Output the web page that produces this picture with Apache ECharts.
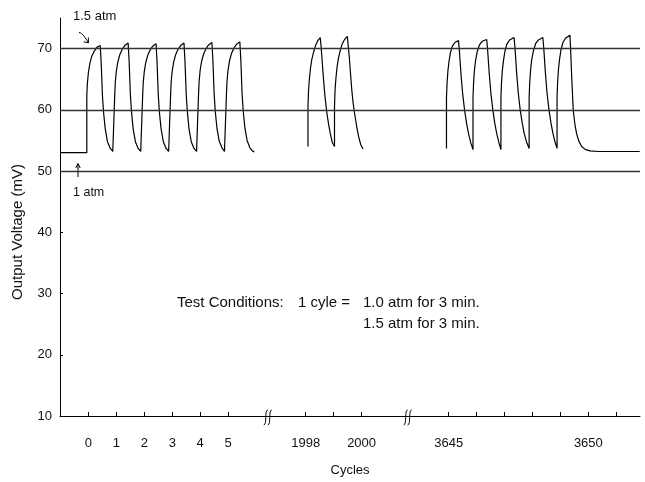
<!DOCTYPE html>
<html><head><meta charset="utf-8">
<script src="https://cdn.jsdelivr.net/npm/echarts@6/dist/echarts.min.js"></script>
<style>html,body{margin:0;padding:0;background:#fff}#c{width:645px;height:482px}</style>
</head><body><div id="c"></div>
<script>
// ---- data (cycles, output voltage in mV) ----
const tickCycles = [0, 1, 2, 3, 4, 5, 1998, 1999, 2000, 3645, 3646, 3647, 3648, 3649, 3650, 3651];
const labelCycles = [0, 1, 2, 3, 4, 5, 1998, 2000, 3645, 3650];
const yTickLabels = [10, 20, 30, 40, 50, 60, 70];
const refLevels = [70, 60, 50];

const seg1 = [
  [-1.02,53.0],[-0.06,53.0],
  [-0.06,62.3],[-0.04,64.3],[-0.003,66.1],[0.05,67.6],[0.12,68.8],[0.21,69.6],[0.30,70.2],[0.42,70.5],[0.455,67.7],[0.50,62.3],[0.54,59.6],[0.60,56.9],[0.68,54.8],[0.78,53.7],[0.87,53.2],[0.94,53.0],
  [0.94,62.4],[0.96,64.5],[0.997,66.3],[1.05,67.8],[1.12,69.0],[1.21,69.9],[1.30,70.5],[1.42,70.9],[1.455,68.0],[1.50,62.5],[1.54,59.7],[1.60,56.9],[1.68,54.8],[1.78,53.7],[1.87,53.2],[1.94,53.0],
  [1.94,62.3],[1.96,64.4],[1.997,66.2],[2.05,67.7],[2.12,68.9],[2.21,69.8],[2.30,70.4],[2.42,70.8],[2.455,67.9],[2.50,62.4],[2.54,59.6],[2.60,56.9],[2.68,54.8],[2.78,53.7],[2.87,53.2],[2.94,53.0],
  [2.94,62.4],[2.96,64.5],[2.997,66.3],[3.05,67.8],[3.12,69.0],[3.21,69.9],[3.30,70.5],[3.42,70.9],[3.455,68.0],[3.50,62.5],[3.54,59.7],[3.60,56.9],[3.68,54.8],[3.78,53.7],[3.87,53.2],[3.94,52.9],
  [3.94,62.4],[3.96,64.5],[3.997,66.4],[4.05,67.9],[4.12,69.1],[4.21,70.0],[4.30,70.6],[4.42,71.0],[4.455,68.1],[4.50,62.6],[4.54,59.8],[4.60,57.0],[4.68,54.9],[4.78,53.8],[4.87,53.2],[4.94,52.9],
  [4.94,62.5],[4.96,64.6],[4.997,66.5],[5.05,68.0],[5.12,69.2],[5.21,70.1],[5.30,70.7],[5.42,71.1],[5.455,68.2],[5.50,62.7],[5.54,59.9],[5.60,57.1],[5.68,55.0],[5.78,53.8],[5.87,53.3],[5.94,53.1]
];

const seg2 = [
  [1998.08,54.0],[1998.08,60.5],[1998.10,63.2],[1998.13,65.0],[1998.17,66.8],[1998.22,68.3],[1998.28,69.4],[1998.35,70.5],[1998.43,71.3],[1998.52,71.8],
  [1998.55,70.3],[1998.58,68.5],[1998.62,66.0],[1998.67,63.1],[1998.72,60.9],[1998.76,59.4],[1998.82,57.6],[1998.88,56.1],[1998.95,54.7],[1999.03,54.0],
  [1999.03,60.6],[1999.05,63.3],[1999.08,65.1],[1999.12,66.9],[1999.17,68.4],[1999.23,69.6],[1999.30,70.7],[1999.39,71.5],[1999.49,72.0],
  [1999.52,70.5],[1999.56,68.6],[1999.60,66.1],[1999.65,63.2],[1999.70,61.0],[1999.75,59.4],[1999.82,57.4],[1999.89,55.7],[1999.97,54.3],[2000.05,53.6]
];

const seg3 = [
  [3644.92,53.7],[3644.92,62.0],[3644.94,64.3],[3644.97,66.3],[3645.01,67.9],[3645.06,69.3],[3645.13,70.4],[3645.22,71.0],[3645.35,71.3],
  [3645.38,69.8],[3645.44,65.8],[3645.50,62.6],[3645.57,59.9],[3645.64,57.8],[3645.71,56.1],[3645.79,54.6],[3645.87,53.5],
  [3645.87,62.0],[3645.89,64.4],[3645.92,66.4],[3645.96,68.0],[3646.02,69.5],[3646.10,70.6],[3646.20,71.2],[3646.36,71.5],
  [3646.39,70.0],[3646.45,66.0],[3646.51,62.7],[3646.58,60.0],[3646.65,57.8],[3646.72,56.1],[3646.80,54.6],[3646.87,53.5],
  [3646.87,62.0],[3646.89,64.4],[3646.92,66.4],[3646.96,68.0],[3647.01,69.5],[3647.08,70.7],[3647.18,71.4],[3647.34,71.8],
  [3647.37,70.3],[3647.43,66.2],[3647.49,62.8],[3647.56,60.0],[3647.63,57.9],[3647.70,56.2],[3647.79,54.7],[3647.88,53.7],
  [3647.88,62.0],[3647.90,64.4],[3647.93,66.4],[3647.97,68.1],[3648.03,69.6],[3648.11,70.8],[3648.21,71.4],[3648.37,71.8],
  [3648.40,70.3],[3648.46,66.2],[3648.52,62.8],[3648.59,60.0],[3648.66,57.9],[3648.73,56.2],[3648.81,54.7],[3648.88,53.7],
  [3648.88,62.0],[3648.90,64.5],[3648.93,66.6],[3648.97,68.3],[3649.02,69.8],[3649.09,71.0],[3649.18,71.7],[3649.34,72.2],
  [3649.36,70.5],[3649.40,65.8],[3649.46,59.9],[3649.52,57.6],[3649.58,56.1],[3649.66,54.9],[3649.76,54.0],[3649.90,53.5],[3650.06,53.3],[3650.36,53.2],[3651.84,53.2]
];

// ---- broken-axis mapping: each cycle segment placed on a continuous axis ----
const segStarts = [0, 1998, 3645];
const segAxisPos = [0, 7.78, 12.9];
const breakAxisPos = [6.42, 11.43];
function toAxis(c) {
  const i = c >= 3000 ? 2 : (c >= 1000 ? 1 : 0);
  return +(c - segStarts[i] + segAxisPos[i]).toFixed(4);
}
const mapSeg = s => s.map(p => [toAxis(p[0]), p[1]]);
const labelMap = {};
labelCycles.forEach(c => { labelMap[toAxis(c).toFixed(3)] = String(c); });

const FONT = '"Liberation Sans", Arial, Helvetica, sans-serif';
const chart = echarts.init(document.getElementById('c'), null, {renderer: 'canvas'});

const lineSeries = (data) => ({
  type: 'line', data: data, showSymbol: false, symbol: 'none', smooth: false,
  lineStyle: {color: '#000', width: 1.2}, silent: true, animation: false, z: 3
});

const option = {
  animation: false,
  backgroundColor: '#fff',
  grid: {left: 60, right: 5, top: 18, bottom: 61, containLabel: false},
  xAxis: {
    type: 'value', min: -1.02, max: 19.75,
    name: 'Cycles', nameLocation: 'middle', nameGap: 48,
    nameTextStyle: {fontFamily: FONT, fontSize: 13, color: '#111'},
    axisLine: {show: true, onZero: false, lineStyle: {color: '#000', width: 1}},
    axisTick: {show: true, inside: true, length: 4, lineStyle: {color: '#000'},
      customValues: tickCycles.map(toAxis)},
    axisLabel: {show: true, margin: 21, fontFamily: FONT, fontSize: 13, color: '#111',
      customValues: labelCycles.map(toAxis),
      formatter: v => labelMap[(+v).toFixed(3)] || ''},
    splitLine: {show: false}
  },
  yAxis: {
    type: 'value', min: 10, max: 75, interval: 10,
    axisLine: {show: true, onZero: false, lineStyle: {color: '#000', width: 1}},
    axisTick: {show: true, inside: true, length: 3, lineStyle: {color: '#000'},
      customValues: yTickLabels.slice(1)},
    axisLabel: {show: true, margin: 8, fontFamily: FONT, fontSize: 13, color: '#111',
      customValues: yTickLabels},
    splitLine: {show: false}
  },
  series: [
    Object.assign(lineSeries(mapSeg(seg1)), {
      markLine: {
        silent: true, symbol: ['none', 'none'], animation: false,
        label: {show: false},
        lineStyle: {color: '#333', width: 1.3, type: 'solid'},
        data: refLevels.map(v => ({yAxis: v}))
      }
    }),
    lineSeries(mapSeg(seg2)),
    lineSeries(mapSeg(seg3))
  ]
};
chart.setOption(option);

// ---- annotations and axis-break marks ----
const y0 = chart.convertToPixel({yAxisIndex: 0}, 10);
const breaksPx = breakAxisPos.map(v => chart.convertToPixel({xAxisIndex: 0}, v));
const blk = {stroke: '#000', lineWidth: 1, fill: null};
const gfx = [];
breaksPx.forEach(bx => {
  [-2, 2].forEach(dx => {
    const x = bx + dx;
    gfx.push({type: 'bezierCurve', silent: true, z: 10,
      shape: {x1: x + 2, y1: y0 - 6, cpx1: x - 1.5, cpy1: y0 - 6, cpx2: x + 1.5, cpy2: y0 + 9, x2: x - 2, y2: y0 + 9},
      style: blk});
  });
});
const txt = (x, y, s, size, extra) => Object.assign({
  type: 'text', silent: true, x: x, y: y,
  style: {text: s, fill: '#111', font: size + 'px ' + FONT, textVerticalAlign: 'middle', verticalAlign: 'middle'}
}, extra || {});
gfx.push(txt(73, 16, '1.5 atm', 13));
gfx.push({type: 'bezierCurve', silent: true,
  shape: {x1: 79, y1: 32.5, cpx1: 82.5, cpy1: 33, cpx2: 85.5, cpy2: 38, x2: 88.3, y2: 42.5}, style: blk});
gfx.push({type: 'polyline', silent: true, shape: {points: [[88.4, 37.5], [88.4, 42.8], [83.8, 41.8]]}, style: blk});
gfx.push({type: 'line', silent: true, shape: {x1: 78, y1: 177, x2: 78, y2: 164}, style: blk});
gfx.push({type: 'polyline', silent: true, shape: {points: [[75.8, 168], [78, 163.5], [80.2, 168]]}, style: blk});
gfx.push(txt(73, 193, '1 atm', 12.5));
gfx.push(txt(177, 303, 'Test Conditions:', 15));
gfx.push(txt(298, 303, '1 cyle =', 15));
gfx.push(txt(363, 303, '1.0 atm for 3 min.', 15));
gfx.push(txt(363, 324, '1.5 atm for 3 min.', 15));
gfx.push({type: 'text', silent: true, x: 18, y: 232, rotation: Math.PI / 2,
  style: {text: 'Output Voltage (mV)', fill: '#111', font: '15px ' + FONT,
    align: 'center', textAlign: 'center', verticalAlign: 'middle', textVerticalAlign: 'middle'}});
chart.setOption({graphic: gfx});
</script>
</body></html>
